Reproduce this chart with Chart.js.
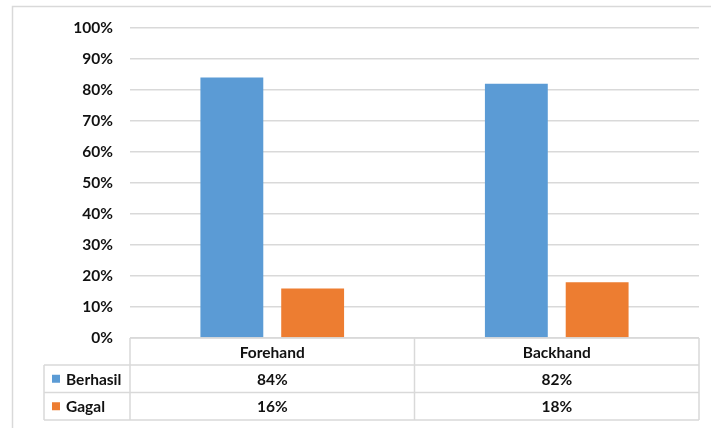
<!DOCTYPE html>
<html>
<head>
<meta charset="utf-8">
<script src="https://cdn.jsdelivr.net/npm/chart.js@4.4.1/dist/chart.umd.min.js"></script>
<style>
  html, body { margin: 0; padding: 0; background: #ffffff; }
  #wrap { width: 711px; height: 428px; position: relative; }
</style>
</head>
<body>
<div id="wrap"><canvas id="c" width="711" height="428"></canvas></div>
<script>
const categories = ["Forehand", "Backhand"];
const seriesNames = ["Berhasil", "Gagal"];
const berhasil = [84, 82];
const gagal = [16, 18];
const seriesColors = ["#5B9BD5", "#ED7D31"];
const yTicks = [0, 10, 20, 30, 40, 50, 60, 70, 80, 90, 100];

const FONT = "Lato";
const TEXT = "#111111";
const LINE = "#d9d9d9";

const tablePlugin = {
  id: "dataTable",
  beforeDraw(chart) {
    const ctx = chart.ctx;
    ctx.save();
    ctx.fillStyle = "#ffffff";
    ctx.fillRect(0, 0, chart.width, chart.height);
    ctx.strokeStyle = LINE;
    ctx.lineWidth = 1.5;
    ctx.strokeRect(12.5, 6.5, chart.width + 20, chart.height + 20);
    ctx.restore();
  },
  afterDraw(chart) {
    const ctx = chart.ctx;
    const x = chart.scales.x;
    const area = chart.chartArea;
    const top = area.bottom;
    const headH = 27;
    const rowH = 27.5;
    const legendLeft = 44;
    const n = categories.length;
    const bounds = [area.left];
    for (let i = 0; i < n - 1; i++) {
      bounds.push((x.getPixelForValue(i) + x.getPixelForValue(i + 1)) / 2);
    }
    bounds.push(area.right);
    const rows = [berhasil, gagal];
    const bottom = top + headH + rowH * rows.length;

    ctx.save();
    ctx.strokeStyle = LINE;
    ctx.lineWidth = 1.5;
    ctx.beginPath();
    ctx.moveTo(area.left, top); ctx.lineTo(area.right, top);
    for (let r = 0; r <= rows.length; r++) {
      const y = top + headH + rowH * r;
      ctx.moveTo(legendLeft, y); ctx.lineTo(area.right, y);
    }
    bounds.forEach(b => { ctx.moveTo(b, top); ctx.lineTo(b, bottom); });
    ctx.moveTo(legendLeft, top + headH); ctx.lineTo(legendLeft, bottom);
    ctx.stroke();

    ctx.fillStyle = TEXT;
    ctx.font = "bold 15.5px " + FONT;
    ctx.textAlign = "center";
    ctx.textBaseline = "middle";
    categories.forEach((c, i) => {
      const cx = x.getPixelForValue(i);
      ctx.fillText(c, cx, top + headH / 2 + 1);
      rows.forEach((row, r) => {
        ctx.fillText(row[i] + "%", cx, top + headH + rowH * r + rowH / 2 + 1);
      });
    });
    ctx.textAlign = "left";
    seriesNames.forEach((s, r) => {
      const cy = top + headH + rowH * r + rowH / 2;
      ctx.fillStyle = seriesColors[r];
      ctx.fillRect(52, cy - 4, 8, 8);
      ctx.fillStyle = TEXT;
      ctx.fillText(s, 66, cy + 1);
    });
    ctx.restore();
  }
};

new Chart(document.getElementById("c"), {
  type: "bar",
  data: {
    labels: categories,
    datasets: [
      { label: seriesNames[0], data: berhasil, backgroundColor: seriesColors[0], categoryPercentage: 0.568, barPercentage: 0.778 },
      { label: seriesNames[1], data: gagal, backgroundColor: seriesColors[1], categoryPercentage: 0.568, barPercentage: 0.778 }
    ]
  },
  options: {
    responsive: false,
    animation: false,
    devicePixelRatio: 1,
    layout: { padding: { left: 0, right: 12, top: 28, bottom: 90 } },
    plugins: { legend: { display: false }, tooltip: { enabled: false } },
    scales: {
      x: { display: false },
      y: {
        min: 0, max: 100,
        afterFit(scale) { scale.width = 130; },
        afterBuildTicks(scale) { scale.ticks = yTicks.map(v => ({ value: v })); },
        border: { display: false },
        grid: { color: LINE, lineWidth: 1.5, drawTicks: false },
        ticks: {
          padding: 17,
          color: TEXT,
          font: { family: FONT, size: 15.5, weight: "bold" },
          callback: v => v + "%"
        }
      }
    }
  },
  plugins: [tablePlugin]
});
</script>
</body>
</html>
